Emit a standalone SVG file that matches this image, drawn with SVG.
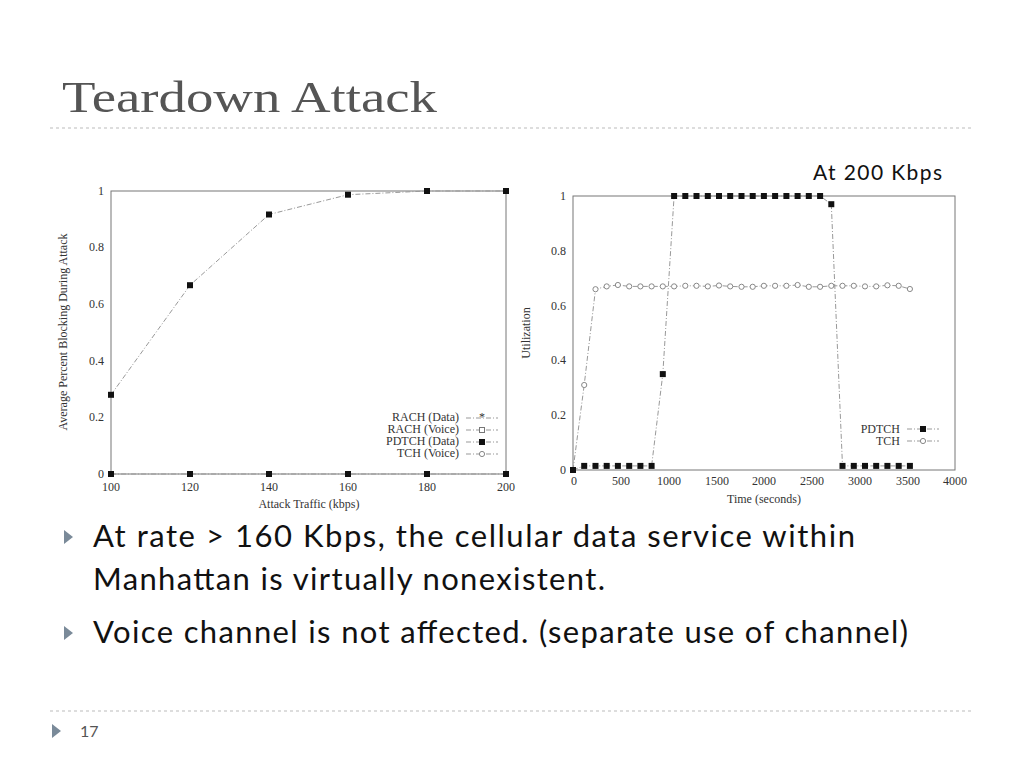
<svg xmlns="http://www.w3.org/2000/svg" width="1024" height="768" viewBox="0 0 1024 768">
<style>
.t{font-family:"Liberation Serif",serif;fill:#333;font-size:12px}
.b{font-family:Lato,"Liberation Sans",sans-serif;fill:#111;font-size:31px}
.ax{fill:none;stroke:#777;stroke-width:1}
.ln{fill:none;stroke:#999;stroke-width:1;stroke-dasharray:5,2,1,2}
.sq{fill:#111}
.ci{fill:#fff;stroke:#888;stroke-width:1}
</style>
<defs>
<rect id="sq" x="-3" y="-3" width="6" height="6" class="sq"/>
<circle id="ci" r="2.6" class="ci"/>
<polygon id="tri" points="0,0 9,7 0,14" fill="#7a8a99"/>
</defs>
<rect width="1024" height="768" fill="#fff"/>
<text x="62" y="112" font-family="Liberation Serif,serif" font-size="44" fill="#555" textLength="375" lengthAdjust="spacingAndGlyphs">Teardown Attack</text>
<line x1="50" y1="128" x2="972" y2="128" stroke="#bbb" stroke-dasharray="3,3"/>
<text x="813" y="180" font-family="Lato,'Liberation Sans',sans-serif" font-size="21" fill="#111" textLength="129">At 200 Kbps</text>

<g id="chart-left">
<rect x="111" y="191" width="395" height="283" class="ax"/>
<g class="t" text-anchor="end">
<text x="104" y="195">1</text><text x="104" y="251">0.8</text><text x="104" y="308">0.6</text><text x="104" y="365">0.4</text><text x="104" y="421">0.2</text><text x="104" y="478">0</text>
</g>
<g class="t" text-anchor="middle">
<text x="111" y="491">100</text><text x="190" y="491">120</text><text x="269" y="491">140</text><text x="348" y="491">160</text><text x="427" y="491">180</text><text x="506" y="491">200</text>
<text x="309" y="508">Attack Traffic (kbps)</text>
<text transform="translate(67,332) rotate(-90)">Average Percent Blocking During Attack</text>
</g>
<polyline class="ln" points="111,474 506,474"/>
<polyline class="ln" points="111,394.8 190,285.2 269,214.5 348,194.7 427,191 506,191"/>
<g>
<use href="#sq" x="111" y="394.8"/><use href="#sq" x="190" y="285.2"/><use href="#sq" x="269" y="214.5"/><use href="#sq" x="348" y="194.7"/><use href="#sq" x="427" y="191"/><use href="#sq" x="506" y="191"/>
<use href="#sq" x="111" y="474"/><use href="#sq" x="190" y="474"/><use href="#sq" x="269" y="474"/><use href="#sq" x="348" y="474"/><use href="#sq" x="427" y="474"/><use href="#sq" x="506" y="474"/>
</g>
<g class="t" text-anchor="end">
<text x="459" y="421">RACH (Data)</text><text x="459" y="433">RACH (Voice)</text><text x="459" y="445">PDTCH (Data)</text><text x="459" y="457">TCH (Voice)</text>
</g>
<line x1="466" y1="418" x2="498" y2="418" class="ln"/><text x="482" y="421" class="t" text-anchor="middle" font-size="9">*</text>
<line x1="466" y1="430" x2="498" y2="430" class="ln"/><rect x="479.5" y="427.5" width="5" height="5" fill="#fff" stroke="#777"/>
<line x1="466" y1="442" x2="498" y2="442" class="ln"/><use href="#sq" x="482" y="442"/>
<line x1="466" y1="454" x2="498" y2="454" class="ln"/><use href="#ci" x="482" y="454"/>
</g>

<g id="chart-right">
<rect x="573" y="196" width="382" height="274" class="ax"/>
<g class="t" text-anchor="end">
<text x="566" y="200">1</text><text x="566" y="255">0.8</text><text x="566" y="310">0.6</text><text x="566" y="364">0.4</text><text x="566" y="419">0.2</text><text x="566" y="474">0</text>
</g>
<g class="t" text-anchor="middle">
<text x="574" y="485">0</text><text x="621" y="485">500</text><text x="669" y="485">1000</text><text x="717" y="485">1500</text><text x="764" y="485">2000</text><text x="812" y="485">2500</text><text x="860" y="485">3000</text><text x="908" y="485">3500</text><text x="955" y="485">4000</text>
<text x="764" y="503">Time (seconds)</text>
<text transform="translate(530,333) rotate(-90)">Utilization</text>
</g>
<polyline class="ln" points="573,470 584.2,385 595.5,289.2 606.7,286.4 617.9,285 629.2,286.4 640.4,286.4 651.6,286.4 662.8,286.4 674.1,286.4 685.3,285.8 696.5,285.8 707.8,286.4 719,285.5 730.2,286.4 741.5,286.8 752.7,286.8 763.9,285.8 775.1,285.8 786.4,285.8 797.6,285 808.8,286.8 820.1,286.8 831.3,285.8 842.5,285.8 853.8,285.8 865,286.4 876.2,286.4 887.4,285.3 898.7,285.8 909.9,289"/>
<polyline class="ln" points="573,470 584.2,465.9 595.5,465.9 606.7,465.9 617.9,465.9 629.2,465.9 640.4,465.9 651.6,465.9 662.8,374.1 674.1,196 820.1,196 831.3,204.2 842.5,465.9 909.9,465.9"/>
<g>
<use href="#ci" x="584.2" y="385"/><use href="#ci" x="595.5" y="289.2"/><use href="#ci" x="606.7" y="286.4"/><use href="#ci" x="617.9" y="285"/><use href="#ci" x="629.2" y="286.4"/><use href="#ci" x="640.4" y="286.4"/><use href="#ci" x="651.6" y="286.4"/><use href="#ci" x="662.8" y="286.4"/><use href="#ci" x="674.1" y="286.4"/><use href="#ci" x="685.3" y="285.8"/><use href="#ci" x="696.5" y="285.8"/><use href="#ci" x="707.8" y="286.4"/><use href="#ci" x="719" y="285.5"/><use href="#ci" x="730.2" y="286.4"/><use href="#ci" x="741.5" y="286.8"/><use href="#ci" x="752.7" y="286.8"/><use href="#ci" x="763.9" y="285.8"/><use href="#ci" x="775.1" y="285.8"/><use href="#ci" x="786.4" y="285.8"/><use href="#ci" x="797.6" y="285"/><use href="#ci" x="808.8" y="286.8"/><use href="#ci" x="820.1" y="286.8"/><use href="#ci" x="831.3" y="285.8"/><use href="#ci" x="842.5" y="285.8"/><use href="#ci" x="853.8" y="285.8"/><use href="#ci" x="865" y="286.4"/><use href="#ci" x="876.2" y="286.4"/><use href="#ci" x="887.4" y="285.3"/><use href="#ci" x="898.7" y="285.8"/><use href="#ci" x="909.9" y="289"/>
</g>
<g>
<use href="#sq" x="573" y="470"/>
<use href="#sq" x="584.2" y="465.9"/><use href="#sq" x="595.5" y="465.9"/><use href="#sq" x="606.7" y="465.9"/><use href="#sq" x="617.9" y="465.9"/><use href="#sq" x="629.2" y="465.9"/><use href="#sq" x="640.4" y="465.9"/><use href="#sq" x="651.6" y="465.9"/>
<use href="#sq" x="662.8" y="374.1"/>
<use href="#sq" x="674.1" y="196"/><use href="#sq" x="685.3" y="196"/><use href="#sq" x="696.5" y="196"/><use href="#sq" x="707.8" y="196"/><use href="#sq" x="719" y="196"/><use href="#sq" x="730.2" y="196"/><use href="#sq" x="741.5" y="196"/><use href="#sq" x="752.7" y="196"/><use href="#sq" x="763.9" y="196"/><use href="#sq" x="775.1" y="196"/><use href="#sq" x="786.4" y="196"/><use href="#sq" x="797.6" y="196"/><use href="#sq" x="808.8" y="196"/><use href="#sq" x="820.1" y="196"/>
<use href="#sq" x="831.3" y="204.2"/>
<use href="#sq" x="842.5" y="465.9"/><use href="#sq" x="853.8" y="465.9"/><use href="#sq" x="865" y="465.9"/><use href="#sq" x="876.2" y="465.9"/><use href="#sq" x="887.4" y="465.9"/><use href="#sq" x="898.7" y="465.9"/><use href="#sq" x="909.9" y="465.9"/>
</g>
<g class="t" text-anchor="end"><text x="900" y="433">PDTCH</text><text x="900" y="445">TCH</text></g>
<line x1="907" y1="429" x2="939" y2="429" class="ln"/><use href="#sq" x="923" y="429"/>
<line x1="907" y1="441" x2="939" y2="441" class="ln"/><use href="#ci" x="923" y="441"/>
</g>

<g id="bullets">
<use href="#tri" x="64" y="530"/>
<text x="93" y="547" class="b" textLength="762">At rate &gt; 160 Kbps, the cellular data service within</text>
<text x="93" y="590" class="b" textLength="512">Manhattan is virtually nonexistent.</text>
<use href="#tri" x="64" y="626"/>
<text x="93" y="643" class="b" textLength="815">Voice channel is not affected. (separate use of channel)</text>
</g>
<line x1="50" y1="711" x2="972" y2="711" stroke="#bbb" stroke-dasharray="3,3"/>
<use href="#tri" x="52" y="724"/>
<text x="80" y="737" font-family="Lato,'Liberation Sans',sans-serif" font-size="16" fill="#555">17</text>
</svg>
